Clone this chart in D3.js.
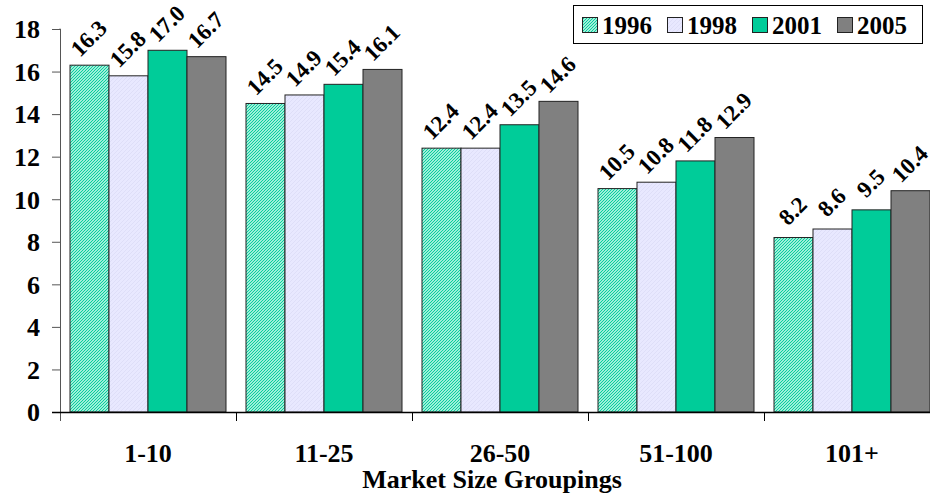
<!DOCTYPE html>
<html>
<head>
<meta charset="utf-8">
<script src="https://cdn.jsdelivr.net/npm/d3@7"></script>
<style>
  body { margin: 0; background: #fff; }
  svg text { font-family: "Times New Roman", "Liberation Serif", "DejaVu Serif", serif; font-weight: bold; }
</style>
</head>
<body>
<div class="canvas"></div>
<script>
const dims = {width: 930, height: 493};
const plot = {left: 60, right: 940, top: 29, bottom: 412};

// data
const groups = ["1-10", "11-25", "26-50", "51-100", "101+"];
const years = ["1996", "1998", "2001", "2005"];
const v1996 = [16.3, 14.5, 12.4, 10.5, 8.2];
const v1998 = [15.8, 14.9, 12.4, 10.8, 8.6];
const v2001 = [17.0, 15.4, 13.5, 11.8, 9.5];
const v2005 = [16.7, 16.1, 14.6, 12.9, 10.4];
const yTicks = [0, 2, 4, 6, 8, 10, 12, 14, 16, 18];

const series = [v1996, v1998, v2001, v2005];
const fills = ["url(#hatch96)", "url(#hatch98)", "#00cc99", "#808080"];

const svg = d3.select(".canvas").append("svg")
    .attr("width", dims.width)
    .attr("height", dims.height);

// patterns (fine diagonal hatch)
const defs = svg.append("defs");
const p96 = defs.append("pattern")
    .attr("id", "hatch96")
    .attr("patternUnits", "userSpaceOnUse")
    .attr("width", 3).attr("height", 3);
p96.append("rect").attr("width", 3).attr("height", 3).attr("fill", "#e6fff7");
p96.append("path")
    .attr("d", "M-1,1 l2,-2 M0,3 l3,-3 M2,4 l2,-2")
    .attr("stroke", "#00cc99").attr("stroke-width", 1.2);

const p98 = defs.append("pattern")
    .attr("id", "hatch98")
    .attr("patternUnits", "userSpaceOnUse")
    .attr("width", 4).attr("height", 4);
p98.append("rect").attr("width", 4).attr("height", 4).attr("fill", "#e8e8ff");
p98.append("path")
    .attr("d", "M-1,1 l2,-2 M0,4 l4,-4 M3,5 l2,-2")
    .attr("stroke", "#dedef8").attr("stroke-width", 1);

// scales
const x = d3.scaleBand().domain(groups).range([plot.left, plot.right]);
const x1 = d3.scaleBand().domain(years).range([10, x.bandwidth() - 10]);
const y = d3.scaleLinear().domain([0, 18]).range([plot.bottom, plot.top]);

// y axis
const yAxis = svg.append("g")
    .attr("transform", `translate(${plot.left},0)`)
    .call(d3.axisLeft(y).tickValues(yTicks).tickSize(8).tickPadding(12).tickFormat(d3.format("d")));
yAxis.attr("font-family", null);
yAxis.select(".domain").attr("stroke", "#555").attr("d", `M-0.5,${plot.top}H0.5V${plot.bottom + 9}`);
yAxis.selectAll(".tick line").attr("stroke", "#555");
yAxis.selectAll("text")
    .attr("font-size", 26)
    .attr("fill", "#000")
    .attr("dy", "0.34em");

// bars
const groupsG = svg.selectAll(".grp")
    .data(groups)
    .enter().append("g")
    .attr("class", "grp")
    .attr("transform", d => `translate(${x(d)},0)`);

years.forEach((yr, si) => {
    groupsG.append("rect")
        .attr("x", x1(yr))
        .attr("y", (d, i) => y(series[si][i]))
        .attr("width", x1.bandwidth())
        .attr("height", (d, i) => y(0) - y(series[si][i]))
        .attr("fill", fills[si])
        .attr("stroke", "#222")
        .attr("stroke-width", 1);

    groupsG.append("text")
        .attr("text-anchor", "middle")
        .attr("font-size", 23)
        .attr("transform", (d, i) => {
            const cx = x1(yr) + x1.bandwidth() / 2 - 1;
            const cy = y(series[si][i]) - 27;
            return `translate(${cx},${cy}) rotate(-45)`;
        })
        .attr("dy", "0.35em")
        .text((d, i) => series[si][i].toFixed(1));
});

// x axis line and category ticks
svg.append("line")
    .attr("x1", plot.left - 8).attr("x2", plot.right)
    .attr("y1", plot.bottom + 0.5).attr("y2", plot.bottom + 0.5)
    .attr("stroke", "#000").attr("stroke-width", 1.5);

svg.selectAll(".ctick")
    .data(groups.slice(1))
    .enter().append("line")
    .attr("x1", d => x(d) + 0.5).attr("x2", d => x(d) + 0.5)
    .attr("y1", plot.bottom).attr("y2", plot.bottom + 9)
    .attr("stroke", "#000");

svg.selectAll(".clabel")
    .data(groups)
    .enter().append("text")
    .attr("x", d => x(d) + x.bandwidth() / 2)
    .attr("y", 462)
    .attr("text-anchor", "middle")
    .attr("font-size", 26)
    .text(d => d);

svg.append("text")
    .attr("x", 492)
    .attr("y", 488)
    .attr("text-anchor", "middle")
    .attr("font-size", 26)
    .text("Market Size Groupings");

// legend
const legend = svg.append("g").attr("transform", "translate(573,5)");
legend.append("rect")
    .attr("x", 0.5).attr("y", 0.5)
    .attr("width", 349).attr("height", 38)
    .attr("fill", "#fff")
    .attr("stroke", "#000");

const items = legend.selectAll(".item")
    .data(years)
    .enter().append("g")
    .attr("transform", (d, i) => `translate(${9 + i * 85},0)`);
items.append("rect")
    .attr("y", 12.5).attr("x", 0.5)
    .attr("width", 15).attr("height", 15)
    .attr("fill", (d, i) => fills[i])
    .attr("stroke", "#222");
items.append("text")
    .attr("x", 20).attr("y", 29)
    .attr("font-size", 25)
    .text(d => d);
</script>
</body>
</html>
